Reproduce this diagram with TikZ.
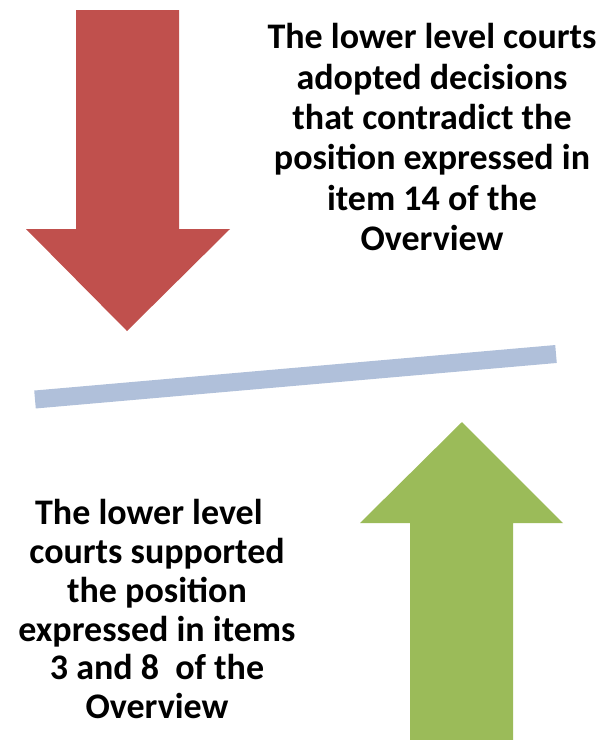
\documentclass[tikz,border=0pt]{standalone}
\usepackage{fontspec}
\setmainfont{Carlito}
\usetikzlibrary{positioning}
\definecolor{downred}{RGB}{192,80,77}
\definecolor{upgreen}{RGB}{155,187,89}
\definecolor{beamblue}{RGB}{176,192,218}

\begin{document}
\begin{tikzpicture}[x=0.5pt,y=-0.5pt,
    caption/.style={align=center,inner sep=0pt,
      font=\bfseries\fontsize{18}{#1}\selectfont}]
\useasboundingbox (0,0) rectangle (607,740);
% arrow pushing down
\fill[downred] (76,10) -- (179,10) -- (179,229) -- (230,229) -- (127,331)
  -- (26,229) -- (76,229) -- cycle;
% arrow pushing up
\fill[upgreen] (410,740) -- (410,523) -- (360,523) -- (462,422) -- (563,523)
  -- (513,523) -- (513,740) -- cycle;
% the tilted beam
\coordinate (beamleft) at (35,399.5);
\coordinate (beamright) at (556,354);
\draw[beamblue,line width=9pt] (beamleft) -- (beamright);
% texts
\node[caption=20.2,anchor=north] (contra) at (432,23)
  {The lower level courts\\adopted decisions\\that contradict the\\position expressed in\\item 14 of the\\Overview};
\node[caption=19.4,anchor=north] (support) at (157,499)
  {The lower level\hspace*{0.45em}\\courts supported\\the position\\expressed in items\\3 and 8\ \ of the\\Overview};
\end{tikzpicture}
\end{document}
